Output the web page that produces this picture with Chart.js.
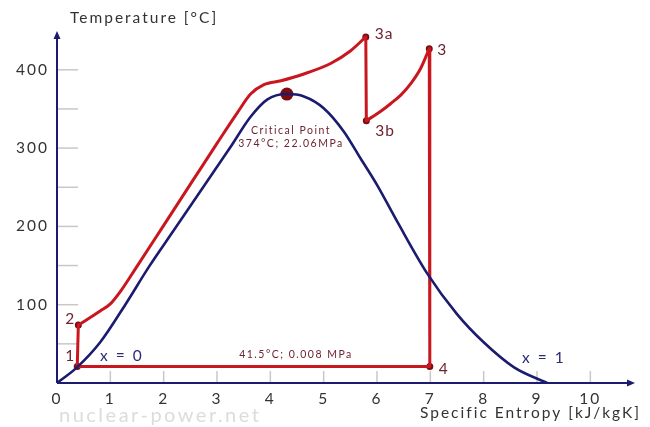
<!DOCTYPE html>
<html><head><meta charset="utf-8">
<script src="https://cdn.jsdelivr.net/npm/chart.js@4.4.1/dist/chart.umd.min.js"></script>
<style>html,body{margin:0;padding:0;background:#fff}#wrap{width:650px;height:427px}</style>
</head><body><div id="wrap"><canvas id="c" width="650" height="427"></canvas></div>
<script>
// Saturation dome (s [kJ/kgK], T [°C])
const domeS = [0, 0.375, 0.81, 1.28, 1.72, 2.19, 2.81, 3.25, 3.63, 3.94, 4.31, 4.63, 5.0, 5.38, 5.69, 6.0, 6.38, 6.94, 7.5, 8.0, 8.57, 9.19];
const domeT = [0, 20, 52, 100, 148, 195, 257, 301, 340, 362, 369, 366, 351, 321, 287, 253, 206, 140, 88, 52, 20, 0];
// Cycle: pump 1->2
const pumpS = [0.38, 0.40];
const pumpT = [21, 74];
// Heating 2 -> 3a
const heatS = [0.40, 0.81, 1.0, 1.2, 1.5, 1.94, 2.56, 3.0, 3.38, 3.63, 3.88, 4.2, 4.6, 5.13, 5.5, 5.79];
const heatT = [74, 92, 101, 118, 149, 195, 260, 306, 345, 369, 381, 386, 394, 408, 424, 442];
// HP turbine 3a -> 3b
const hpS = [5.79, 5.8];
const hpT = [442, 335];
// Reheat 3b -> 3
const reheatS = [5.8, 6.07, 6.26, 6.45, 6.64, 6.82, 6.98];
const reheatT = [335, 347, 357, 368, 383, 402, 427];
// LP turbine 3 -> 4, condenser 4 -> 1
const lpS = [6.98, 6.99, 0.38];
const lpT = [427, 21, 21];
// State points
const stateNames = ['1', '2', '3a', '3b', '3', '4'];
const stateS = [0.38, 0.40, 5.79, 5.8, 6.98, 6.99];
const stateT = [21, 74, 442, 335, 427, 21];
const critS = [4.31];
const critT = [369];
const xTicks = [0,1,2,3,4,5,6,7,8,9,10];
const yTickLabels = [100, 200, 300, 400];

const RED = '#c9171f', NAVY = '#1b1b6f', MAROON = '#7a0d10', TXT = '#6e2330';
const FONT = 'Lato, "Open Sans", sans-serif';
const pts = (xs, ys) => xs.map((x, i) => ({x, y: ys[i]}));

const deco = {
  id: 'deco',
  beforeDraw(chart) { chart.ctx.letterSpacing = '2px'; },
  beforeDatasetsDraw(chart) {
    const {ctx, scales: {x, y}} = chart;
    ctx.save();
    ctx.strokeStyle = '#c8c8c8'; ctx.lineWidth = 1.5;
    for (let v = 50; v <= 400; v += 50) {
      const py = y.getPixelForValue(v);
      ctx.beginPath(); ctx.moveTo(x.left, py); ctx.lineTo(x.left + 21, py); ctx.stroke();
    }
    xTicks.forEach(v => {
      if (v === 0) return;
      const px = x.getPixelForValue(v);
      ctx.beginPath(); ctx.moveTo(px, y.bottom); ctx.lineTo(px, y.bottom - 12); ctx.stroke();
    });
    ctx.restore();
  },
  afterDraw(chart) {
    const {ctx, scales: {x, y}} = chart;
    ctx.save();
    ctx.strokeStyle = NAVY; ctx.fillStyle = NAVY; ctx.lineWidth = 2;
    const ox = x.left, oy = y.bottom;
    ctx.beginPath(); ctx.moveTo(ox, oy); ctx.lineTo(ox, y.top + 2); ctx.stroke();
    ctx.beginPath(); ctx.moveTo(ox, oy); ctx.lineTo(x.right - 2, oy); ctx.stroke();
    ctx.beginPath(); ctx.moveTo(ox, y.top - 2); ctx.lineTo(ox - 3.5, y.top + 6); ctx.lineTo(ox + 3.5, y.top + 6); ctx.closePath(); ctx.fill();
    ctx.beginPath(); ctx.moveTo(x.right + 2, oy); ctx.lineTo(x.right - 6, oy - 3.5); ctx.lineTo(x.right - 6, oy + 3.5); ctx.closePath(); ctx.fill();
    ctx.letterSpacing = '2px';
    ctx.fillStyle = '#333'; ctx.font = '15.5px ' + FONT; ctx.textBaseline = 'middle';
    ctx.textAlign = 'left';
    ctx.fillText('Temperature [°C]', 70, 18);
    ctx.fillText('Specific Entropy [kJ/kgK]', 420, 413);
    ctx.letterSpacing = '2.5px';
    ctx.fillStyle = '#dcdcdc'; ctx.font = '20px ' + FONT;
    ctx.fillText('nuclear-power.net', 59, 416);
    ctx.letterSpacing = '1px';
    ctx.fillStyle = TXT; ctx.font = '15.5px ' + FONT;
    const lab = (t, s, T, dx, dy) => ctx.fillText(t, x.getPixelForValue(s) + dx, y.getPixelForValue(T) + dy);
    lab('1', stateS[0], stateT[0], -12, -11);
    lab('2', stateS[1], stateT[1], -13, -6);
    lab('3a', stateS[2], stateT[2], 9, -3);
    lab('3b', stateS[3], stateT[3], 9, 10);
    lab('3', stateS[4], stateT[4], 8, 1);
    lab('4', stateS[5], stateT[5], 9, 2);
    ctx.letterSpacing = '2px';
    ctx.fillStyle = '#2b2b78'; ctx.font = '15.5px ' + FONT;
    ctx.fillText('x = 0', 100, 356);
    ctx.fillText('x = 1', 522, 358);
    ctx.letterSpacing = '1.5px';
    ctx.fillStyle = TXT; ctx.font = '10.5px ' + FONT; ctx.textAlign = 'center';
    ctx.fillText('41.5°C; 0.008 MPa', 296, 355);
    ctx.fillText('Critical Point', 291, 131);
    ctx.fillText('374°C; 22.06MPa', 291, 144);
    ctx.restore();
    ctx.letterSpacing = '0px';
  }
};

const lineDs = (xs, ys, color, w, mono) => ({
  data: pts(xs, ys), showLine: true, borderColor: color, borderWidth: w,
  pointRadius: 0, cubicInterpolationMode: mono ? 'monotone' : 'default', tension: 0,
  fill: false, borderCapStyle: 'round', borderJoinStyle: 'round'
});

new Chart(document.getElementById('c'), {
  type: 'scatter',
  data: { datasets: [
    lineDs(domeS, domeT, NAVY, 2.6, true),
    lineDs(pumpS, pumpT, RED, 3, false),
    lineDs(heatS, heatT, RED, 3, true),
    lineDs(hpS, hpT, RED, 3, false),
    lineDs(reheatS, reheatT, RED, 3, true),
    lineDs(lpS, lpT, RED, 3, false),
    { data: pts(stateS, stateT), pointRadius: 3.5, pointBackgroundColor: MAROON, pointBorderWidth: 0 },
    { data: pts(critS, critT), pointRadius: 6.5, pointBackgroundColor: MAROON, pointBorderWidth: 0 }
  ]},
  options: {
    responsive: false, animation: false, devicePixelRatio: 1,
    layout: { padding: { top: 33, right: 17, left: 0, bottom: 0 } },
    plugins: { legend: { display: false }, tooltip: { enabled: false } },
    scales: {
      x: { type: 'linear', min: 0, max: 10.8, border: { display: false },
        grid: { display: false, drawTicks: false },
        afterFit: s => { s.height = 44; },
        afterBuildTicks: s => { s.ticks = xTicks.map(v => ({value: v})); },
        ticks: { color: '#333', font: { family: FONT, size: 15.5 }, padding: 7, callback: v => String(v) } },
      y: { type: 'linear', min: 0, max: 447, border: { display: false },
        grid: { display: false, drawTicks: false },
        afterFit: s => { s.width = 57; },
        afterBuildTicks: s => { s.ticks = yTickLabels.map(v => ({value: v})); },
        ticks: { color: '#333', font: { family: FONT, size: 15.5 }, padding: 8, callback: v => String(v) } }
    }
  },
  plugins: [deco]
});
</script></body></html>
